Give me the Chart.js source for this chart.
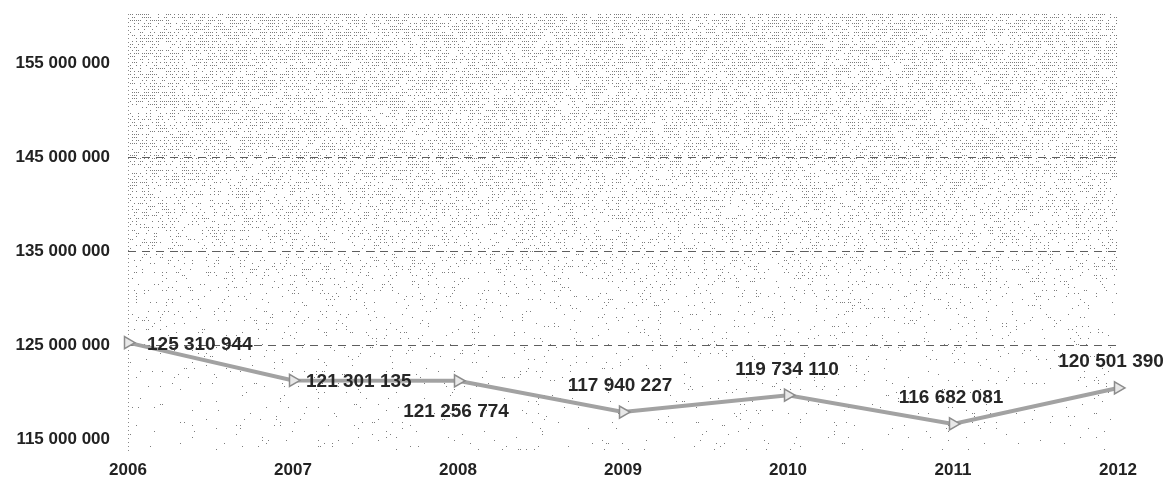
<!DOCTYPE html>
<html>
<head>
<meta charset="utf-8">
<script src="https://cdn.jsdelivr.net/npm/chart.js@4/dist/chart.umd.min.js"></script>
<style>
  html, body { margin: 0; padding: 0; background: #fff; }
  canvas { display: block; }
</style>
</head>
<body>
<canvas id="c" width="1176" height="479"></canvas>
<script>
// Yearly totals, 2006–2012
const years = ['2006', '2007', '2008', '2009', '2010', '2011', '2012'];
const totals = [125310944, 121301135, 121256774, 117940227, 119734110, 116682081, 120501390];
const yTickValues = [115000000, 125000000, 135000000, 145000000, 155000000];
const dashedLevels = [125000000, 135000000, 145000000];

// where each value label sits relative to its point: [dx, dy, align]
const labelPlacement = [
  [19, 2, 'left'],
  [13, 1, 'left'],
  [-2, 31, 'center'],
  [-3, -26, 'center'],
  [-1, -25, 'center'],
  [-2, -26, 'center'],
  [-7, -26, 'center']
];

const fmt = v => String(Math.round(v)).replace(/\B(?=(\d{3})+(?!\d))/g, ' ');
const FONT = '"Liberation Sans", Arial, sans-serif';

// stippled backdrop: dense at the top, thinning out towards the bottom
function hash(x, y) {
  const s = Math.sin(x * 12.9898 + y * 78.233) * 43758.5453;
  return s - Math.floor(s);
}
function density(y, top, bottom) {
  const t = (y - top) / (bottom - top);
  const stops = [[0, 0.55], [0.3, 0.45], [0.5, 0.26], [0.62, 0.12], [0.75, 0.05], [1, 0.03]];
  for (let i = 1; i < stops.length; i++) {
    if (t <= stops[i][0]) {
      const [t0, d0] = stops[i - 1], [t1, d1] = stops[i];
      return d0 + (d1 - d0) * (t - t0) / (t1 - t0);
    }
  }
  return 0.03;
}
const stipple = {
  id: 'stipple',
  beforeDraw(chart) {
    const { ctx, chartArea: a } = chart;
    ctx.save();
    ctx.fillStyle = '#7c7c7c';
    for (let y = Math.ceil(a.top); y < a.bottom; y += 3) {
      const d = density(y, a.top, a.bottom);
      for (let x = Math.ceil(a.left) + 2; x < a.right; x += 2) {
        if (hash(x, y) < d) ctx.fillRect(x, y, 1, 1);
      }
    }
    // dotted axis line on the left
    ctx.strokeStyle = '#8a8a8a';
    ctx.lineWidth = 1;
    ctx.setLineDash([1, 3]);
    ctx.beginPath();
    ctx.moveTo(Math.round(a.left) + 0.5, a.top);
    ctx.lineTo(Math.round(a.left) + 0.5, a.bottom);
    ctx.stroke();
    ctx.restore();
  }
};

// value labels next to each point
const valueLabels = {
  id: 'valueLabels',
  afterDatasetsDraw(chart) {
    const { ctx } = chart;
    const meta = chart.getDatasetMeta(0);
    ctx.save();
    ctx.font = 'bold 19px ' + FONT;
    ctx.fillStyle = '#262626';
    ctx.textBaseline = 'middle';
    meta.data.forEach((pt, i) => {
      const [dx, dy, align] = labelPlacement[i];
      ctx.textAlign = align;
      ctx.fillText(fmt(totals[i]), pt.x + dx, pt.y + dy);
    });
    ctx.restore();
  }
};

new Chart(document.getElementById('c'), {
  type: 'line',
  data: {
    labels: years,
    datasets: [{
      data: totals,
      borderColor: '#a2a2a2',
      borderWidth: 4,
      tension: 0,
      fill: false,
      pointStyle: 'triangle',
      pointRotation: 90,
      pointRadius: 7,
      pointBackgroundColor: '#e8e8e8',
      pointBorderColor: '#8c8c8c',
      pointBorderWidth: 1.5,
      clip: false
    }]
  },
  options: {
    responsive: false,
    animation: false,
    layout: { padding: { top: 14, right: 58, left: 0, bottom: 0 } },
    plugins: { legend: { display: false }, tooltip: { enabled: false } },
    scales: {
      x: {
        offset: false,
        grid: { display: false, drawTicks: false },
        border: { display: false },
        ticks: {
          color: '#222',
          font: { family: FONT, size: 17, weight: 'bold' },
          padding: 8,
          maxRotation: 0
        },
        afterFit(s) { s.height = 27; s.paddingLeft = 0; s.paddingRight = 0; }
      },
      y: {
        min: 113700000,
        max: 160200000,
        afterBuildTicks(s) { s.ticks = yTickValues.map(v => ({ value: v })); },
        afterFit(s) { s.width = 128; s.paddingTop = 0; s.paddingBottom = 0; },
        grid: {
          drawTicks: false,
          lineWidth: 1,
          color: c => (c.tick && dashedLevels.includes(c.tick.value)) ? '#5e5e5e' : 'rgba(0,0,0,0)'
        },
        border: { display: false, dash: [8, 6] },
        ticks: {
          color: '#222',
          font: { family: FONT, size: 17, weight: 'bold' },
          padding: 18,
          callback: v => fmt(v)
        }
      }
    }
  },
  plugins: [stipple, valueLabels]
});
</script>
</body>
</html>
